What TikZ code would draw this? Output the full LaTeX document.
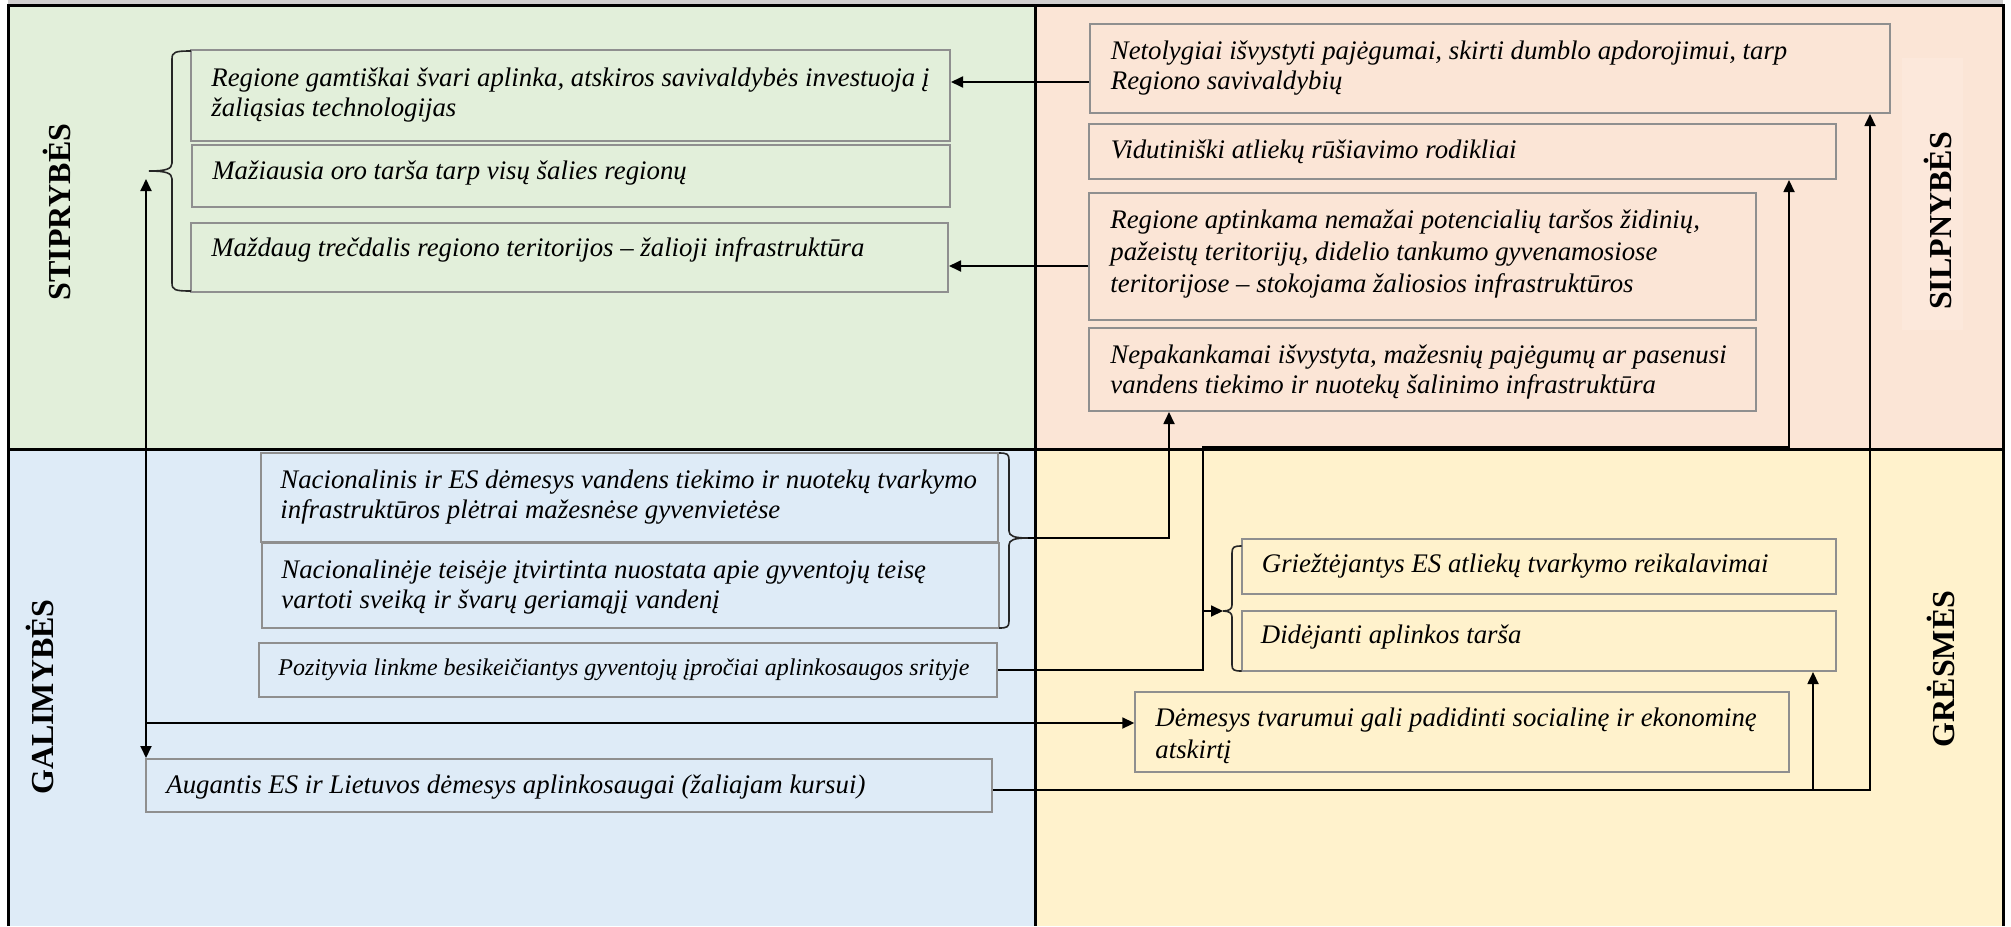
\documentclass[tikz,border=0pt]{standalone}
\usepackage{fontspec}
\setmainfont{Liberation Serif}
\usetikzlibrary{arrows.meta}
\definecolor{cgreen}{HTML}{E2EFDA}
\definecolor{cpeach}{HTML}{FBE5D6}
\definecolor{cpeachlight}{HTML}{FCE8DB}
\definecolor{cblue}{HTML}{DEEBF7}
\definecolor{cyellow}{HTML}{FFF2CC}
\definecolor{cband}{HTML}{D0CECE}
\definecolor{boxgray}{HTML}{8F8F8F}
\newcommand{\mytb}[1]{\parbox[t]{480pt}{\raggedright #1}}
\begin{document}
\begin{tikzpicture}[x=0.5pt,y=-0.5pt,
  bframe/.style={draw=boxgray,line width=1pt,inner sep=0pt,rectangle},
  btext/.style={anchor=base west,inner sep=0pt,font=\fontsize{13.4}{15}\selectfont\itshape},
  btextw/.style={btext,font=\fontsize{13.4}{16}\selectfont\itshape},
  stext/.style={btext,font=\fontsize{12}{14}\selectfont\itshape},
  conn/.style={line width=0.9pt,draw=black},
  brc/.style={line width=0.8pt,draw=black!85},
  arr/.style={conn,-{Triangle[length=6pt,width=5.5pt]}},
  lab/.style={rotate=90,inner sep=0pt,font=\fontsize{16}{19}\selectfont\bfseries},
  frame/.style={line width=1.5pt,draw=black}]
\useasboundingbox (0,0) rectangle (2011,926);
% panels
\fill[cband] (8,0) rectangle (2003,6);
\fill[cgreen] (8,5) rectangle (1035,449);
\fill[cpeach] (1035,5) rectangle (2003,449);
\fill[cblue] (8,449) rectangle (1035,926);
\fill[cyellow] (1035,449) rectangle (2003,926);
\fill[cpeachlight] (1902,58) rectangle (1963,330);
\draw[frame] (8.5,926) -- (8.5,5.5) -- (2003.5,5.5) -- (2003.5,926);
\draw[frame] (8.5,449) -- (2003.5,449);
\draw[frame] (1035,5.5) -- (1035,926);
% labels
\node[lab] (lS) at (57,212) {STIPRYBĖS};
\node[lab] (lG) at (40,697) {GALIMYBĖS};
\node[lab] (lW) at (1938,221) {SILPNYBĖS};
\node[lab] (lT) at (1941,669) {GRĖSMĖS};
% strengths
\node[bframe,minimum width=379.5pt,minimum height=45.5pt] (s1) at (570.5,95.5) {};
\node[btext] (s1t) at (211,86) {\mytb{Regione gamtiškai švari aplinka, atskiros savivaldybės investuoja į\\žaliąsias technologijas}};
\node[bframe,minimum width=379pt,minimum height=31pt] (s2) at (571,176) {};
\node[btext] (s2t) at (212,179) {\mytb{Mažiausia oro tarša tarp visų šalies regionų}};
\node[bframe,minimum width=378.5pt,minimum height=34.5pt] (s3) at (569.5,257.5) {};
\node[btext] (s3t) at (211,256) {\mytb{Maždaug trečdalis regiono teritorijos – žalioji infrastruktūra}};
% weaknesses
\node[bframe,minimum width=399.8pt,minimum height=44.5pt] (w1) at (1489.8,68.5) {};
\node[btext] (w1t) at (1110.5,59) {\mytb{Netolygiai išvystyti pajėgumai, skirti dumblo apdorojimui, tarp\\Regiono savivaldybių}};
\node[bframe,minimum width=373.5pt,minimum height=27.5pt] (w2) at (1462.5,151.5) {};
\node[btext] (w2t) at (1110.5,158) {\mytb{Vidutiniški atliekų rūšiavimo rodikliai}};
\node[bframe,minimum width=333.7pt,minimum height=63.5pt] (w3) at (1422.7,256.5) {};
\node[btextw] (w3t) at (1110,228) {\mytb{Regione aptinkama nemažai potencialių taršos židinių,\\pažeistų teritorijų, didelio tankumo gyvenamosiose\\teritorijose – stokojama žaliosios infrastruktūros}};
\node[bframe,minimum width=333.7pt,minimum height=41.5pt] (w4) at (1422.7,369.5) {};
\node[btext] (w4t) at (1110,363) {\mytb{Nepakankamai išvystyta, mažesnių pajėgumų ar pasenusi\\vandens tiekimo ir nuotekų šalinimo infrastruktūra}};
% opportunities
\node[bframe,minimum width=368.5pt,minimum height=44.5pt] (o1) at (629.5,497.5) {};
\node[btext] (o1t) at (280,488) {\mytb{Nacionalinis ir ES dėmesys vandens tiekimo ir nuotekų tvarkymo\\infrastruktūros plėtrai mažesnėse gyvenvietėse}};
\node[bframe,minimum width=368.5pt,minimum height=42.5pt] (o2) at (630.5,585.5) {};
\node[btext] (o2t) at (281,578) {\mytb{Nacionalinėje teisėje įtvirtinta nuostata apie gyventojų teisę\\vartoti sveiką ir švarų geriamąjį vandenį}};
\node[bframe,minimum width=369pt,minimum height=27pt] (o3) at (628,670) {};
\node[stext] (o3t) at (278,675) {\mytb{Pozityvia linkme besikeičiantys gyventojų įpročiai aplinkosaugos srityje}};
\node[bframe,minimum width=423pt,minimum height=26.5pt] (o4) at (569,785.5) {};
\node[btext] (o4t) at (166,793.5) {\mytb{Augantis ES ir Lietuvos dėmesys aplinkosaugai (žaliajam kursui)}};
% threats
\node[bframe,minimum width=297.2pt,minimum height=27.5pt] (t1) at (1538.9,566.5) {};
\node[btext] (t1t) at (1261.5,572.5) {\mytb{Griežtėjantys ES atliekų tvarkymo reikalavimai}};
\node[bframe,minimum width=297.2pt,minimum height=30pt] (t2) at (1538.9,641) {};
\node[btext] (t2t) at (1260.5,643.5) {\mytb{Didėjanti aplinkos tarša}};
\node[bframe,minimum width=326.9pt,minimum height=40pt] (t3) at (1462.2,732) {};
\node[btextw] (t3t) at (1155,726) {\mytb{Dėmesys tvarumui gali padidinti socialinę ir ekonominę\\atskirtį}};
% braces
\coordinate (sbtip) at (149,171);
\draw[brc] (191,51) .. controls (175,51) and (172,52) .. (172,59) -- (172,163) .. controls (172,169) and (166,171) .. (sbtip) .. controls (166,171) and (172,173) .. (172,179) -- (172,283) .. controls (172,290) and (175,291) .. (191,291);
\coordinate (obtip) at (1028,538);
\draw[brc] (999,453) .. controls (1007,453) and (1009,454) .. (1009,460) -- (1009,531) .. controls (1009,536) and (1014,538) .. (obtip) .. controls (1014,538) and (1009,540) .. (1009,545) -- (1009,621) .. controls (1009,627) and (1007,628) .. (999,628);
\coordinate (tbtip) at (1223,611);
\draw[brc] (1241.5,546) .. controls (1234,546) and (1232,547) .. (1232,553) -- (1232,605) .. controls (1232,609) and (1229,611) .. (tbtip) .. controls (1229,611) and (1232,613) .. (1232,617) -- (1232,665) .. controls (1232,670) and (1234,671) .. (1241.5,671);
% connectors
\coordinate (ya) at (0,82);
\coordinate (yb) at (0,266);
\draw[arr] (w1.west |- ya) -- (s1.east |- ya);
\draw[arr] (w3.west |- yb) -- (s3.east |- yb);
\coordinate (jl) at (146,723);
\draw[arr,shorten >=4pt] (jl) -- (jl |- sbtip);
\draw[arr] (jl) -- (jl |- o4.north);
\draw[arr] (jl) -- (jl -| t3.west);
\coordinate (jr) at (1870,790);
\coordinate (jt) at (1813,790);
\draw[arr] (o4.east |- jr) -- (jr) -- (jr |- w1.south);
\draw[arr] (jt) -- (jt |- t2.south);
\coordinate (jm1) at (1169,538);
\draw[arr] (obtip) -- (jm1) -- (jm1 |- w4.south);
\coordinate (jm2) at (1203,670);
\coordinate (jm3) at (1203,447);
\coordinate (jm4) at (1789,447);
\draw[arr] (o3.east) -- (jm2) -- (jm3) -- (jm4) -- (jm4 |- w2.south);
\coordinate (jm5) at (1203,611);
\draw[arr] (jm5) -- (tbtip);
\end{tikzpicture}
\end{document}
